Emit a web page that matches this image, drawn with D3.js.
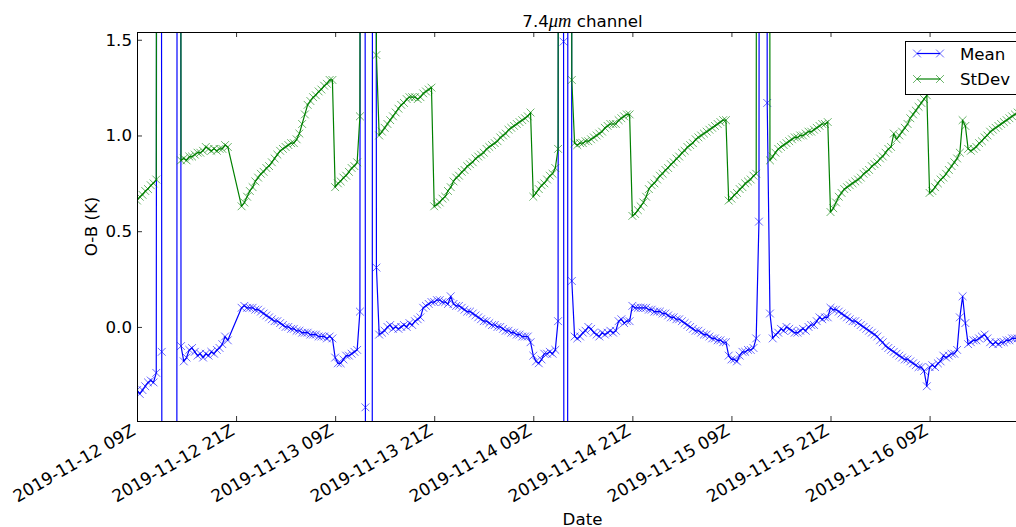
<!DOCTYPE html>
<html>
<head>
<meta charset="utf-8">
<script src="https://cdn.jsdelivr.net/npm/d3@7"></script>
<style>
  body { margin: 0; background: #fff; }
  svg { display: block; }
  text { font-family: "DejaVu Sans", sans-serif; fill: #000; }
</style>
</head>
<body>
<svg id="chart" width="1016" height="527"></svg>
<script>
// Observation-minus-background statistics, 7.4 micron channel, one value every 20 minutes.
const seriesStart = "2019-11-12T09:00:00Z";
const stepMinutes = 20;
const axisEnd = "2019-11-16T20:48:00Z";

// Mean O-B (K); null = no data for that slot
const meanValues = [
  -0.33,-0.35,-0.33,-0.31,-0.29,-0.28,-0.29,-0.24,
  20,-0.13,-20,-20,-20,-20,-20,20,
  -0.10,-0.18,-0.16,-0.12,-0.11,-0.13,-0.15,-0.14,-0.16,-0.14,-0.15,-0.13,-0.14,-0.12,-0.11,-0.09,-0.05,-0.07,
  null,null,null,null,
  0.10,0.11,0.10,0.10,0.10,0.09,0.09,0.08,0.07,0.06,0.05,0.04,0.03,0.03,0.02,0.01,0.00,0.00,-0.01,-0.01,-0.02,-0.02,-0.03,-0.03,-0.03,-0.04,-0.04,-0.04,-0.05,-0.05,-0.05,-0.06,-0.05,-0.06,
  -0.16,-0.19,-0.19,-0.17,-0.15,-0.15,-0.14,-0.13,-0.12,
  0.08,20,-0.42,-20,-20,20,0.31,
  -0.04,-0.03,-0.02,0.00,0.01,-0.01,0.00,-0.01,0.00,0.01,0.00,0.02,0.01,0.03,0.04,0.05,0.10,0.11,0.12,0.13,
  0.13,0.14,0.14,0.13,0.13,0.12,0.16,0.12,0.11,0.11,0.10,0.09,0.08,0.08,0.07,0.06,0.05,0.04,0.03,0.03,0.02,0.01,0.01,0.00,0.00,-0.01,-0.02,-0.02,-0.03,-0.03,-0.04,-0.04,-0.05,-0.05,-0.05,-0.08,
  -0.15,-0.18,-0.19,-0.17,-0.14,-0.14,-0.13,-0.14,-0.12,0.03,
  20,1.49,-20,20,0.24,
  -0.05,-0.06,-0.05,-0.03,-0.02,0.00,-0.01,-0.03,-0.04,-0.05,-0.03,-0.04,-0.03,-0.02,-0.03,-0.02,0.03,0.04,0.02,0.03,0.03,
  0.11,0.10,0.10,0.10,0.10,0.10,0.09,0.09,0.08,0.08,0.08,0.07,0.07,0.06,0.05,0.05,0.04,0.04,0.03,0.02,0.01,0.00,-0.01,-0.02,-0.02,-0.03,-0.04,-0.04,-0.05,-0.06,-0.06,-0.07,-0.07,-0.08,-0.08,
  -0.15,-0.17,-0.17,-0.18,-0.15,-0.13,-0.13,-0.12,-0.12,-0.11,-0.06,
  0.55,20,20,1.17,
  0.07,-0.06,-0.04,-0.03,-0.01,-0.02,0.00,-0.01,-0.02,-0.03,-0.03,-0.02,-0.01,-0.02,0.00,0.01,0.01,0.03,0.05,0.04,0.05,0.05,
  0.10,0.09,0.09,0.08,0.07,0.06,0.05,0.04,0.03,0.03,0.02,0.01,0.00,-0.01,-0.02,-0.03,-0.04,-0.05,-0.07,-0.08,-0.10,-0.11,-0.12,-0.13,-0.14,-0.15,-0.16,-0.17,-0.17,-0.18,-0.19,-0.20,-0.21,-0.21,-0.23,-0.31,
  -0.21,-0.20,-0.21,-0.19,-0.18,-0.15,-0.16,-0.15,-0.14,-0.14,-0.12,0.05,0.16,0.02,-0.09,-0.08,-0.07,-0.07,-0.06,-0.05,-0.04,-0.06,-0.08,-0.09,-0.08,-0.09,-0.08,-0.08,-0.07,-0.07,-0.06,-0.06,-0.06
];

// Standard deviation of O-B (K)
const stdevValues = [
  0.66,0.68,0.69,0.71,0.72,0.74,0.75,0.77,
  20,20,20,20,20,20,20,20,
  0.87,0.88,0.87,0.89,0.89,0.90,0.91,0.91,0.92,0.94,0.93,0.92,0.93,0.92,0.93,0.93,0.95,0.94,
  null,null,null,null,
  0.63,0.65,0.68,0.71,0.73,0.76,0.78,0.80,0.81,0.83,0.84,0.86,0.88,0.90,0.92,0.93,0.94,0.95,0.96,0.96,0.98,1.01,1.06,1.11,1.16,1.18,1.20,1.21,1.23,1.24,1.26,1.27,1.29,1.29,
  0.73,0.75,0.76,0.78,0.79,0.81,0.83,0.84,0.86,
  1.10,20,20,20,20,20,1.42,
  1.00,1.02,1.04,1.06,1.08,1.10,1.12,1.14,1.16,1.17,1.19,1.20,1.20,1.20,1.19,1.20,1.22,1.23,1.24,1.25,
  0.63,0.64,0.65,0.67,0.68,0.71,0.73,0.76,0.78,0.79,0.81,0.82,0.84,0.85,0.86,0.88,0.89,0.90,0.91,0.93,0.94,0.95,0.96,0.97,0.99,1.00,1.01,1.03,1.04,1.05,1.06,1.07,1.08,1.09,1.10,1.12,
  0.68,0.70,0.72,0.74,0.75,0.77,0.79,0.80,0.83,0.93,
  20,20,20,20,1.29,
  0.96,0.95,0.96,0.96,0.97,0.97,0.98,0.99,1.00,1.01,1.02,1.04,1.05,1.06,1.06,1.06,1.08,1.09,1.10,1.11,1.11,
  0.58,0.59,0.61,0.63,0.65,0.68,0.72,0.74,0.75,0.77,0.79,0.80,0.82,0.83,0.85,0.86,0.88,0.89,0.91,0.92,0.94,0.95,0.96,0.98,0.99,1.00,1.01,1.02,1.03,1.04,1.05,1.06,1.07,1.08,1.08,
  0.66,0.67,0.69,0.70,0.72,0.73,0.75,0.76,0.77,0.79,0.80,
  20,20,20,20,
  0.87,0.89,0.91,0.93,0.94,0.95,0.96,0.97,0.98,0.99,0.99,1.00,1.00,1.01,1.02,1.02,1.03,1.04,1.05,1.06,1.06,1.07,
  0.60,0.62,0.65,0.68,0.70,0.72,0.73,0.74,0.75,0.76,0.77,0.78,0.80,0.81,0.82,0.84,0.85,0.86,0.88,0.89,0.91,0.93,0.94,1.01,0.98,1.00,1.02,1.04,1.06,1.09,1.11,1.13,1.15,1.17,1.19,1.21,
  0.70,0.71,0.73,0.75,0.77,0.78,0.80,0.82,0.84,0.86,0.88,0.91,1.08,1.05,0.93,0.92,0.93,0.94,0.96,0.97,0.99,1.00,1.02,1.03,1.04,1.05,1.06,1.07,1.08,1.09,1.10,1.11,1.12
];

const yDomain = [-0.4914, 1.5405];
const yTickValues = [0.0, 0.5, 1.0, 1.5];
const xTickTimes = [
  "2019-11-12T09:00:00Z","2019-11-12T21:00:00Z","2019-11-13T09:00:00Z",
  "2019-11-13T21:00:00Z","2019-11-14T09:00:00Z","2019-11-14T21:00:00Z",
  "2019-11-15T09:00:00Z","2019-11-15T21:00:00Z","2019-11-16T09:00:00Z"
];
const xTickLabels = [
  "2019-11-12 09Z","2019-11-12 21Z","2019-11-13 09Z",
  "2019-11-13 21Z","2019-11-14 09Z","2019-11-14 21Z",
  "2019-11-15 09Z","2019-11-15 21Z","2019-11-16 09Z"
];
const seriesNames = ["Mean", "StDev"];
const seriesColors = ["#0000ff", "#008000"];

const svg = d3.select("#chart");
const plot = { left: 137, right: 1027, top: 32, bottom: 421 };

const t0 = new Date(seriesStart).getTime();
const timeAt = i => new Date(t0 + i * stepMinutes * 60000);

const x = d3.scaleUtc()
  .domain([new Date(seriesStart), new Date(axisEnd)])
  .range([plot.left, plot.right]);
const y = d3.scaleLinear().domain(yDomain).range([plot.bottom, plot.top]);

const toPoints = vals => vals
  .map((v, i) => ({ t: timeAt(i), v }))
  .filter(d => d.v !== null);
const series = [toPoints(meanValues), toPoints(stdevValues)];

svg.append("defs").append("clipPath").attr("id", "plot-clip")
  .append("rect")
  .attr("x", plot.left + 0.5).attr("y", plot.top + 0.5)
  .attr("width", plot.right - plot.left).attr("height", plot.bottom - plot.top);

const line = d3.line().x(d => x(d.t)).y(d => y(d.v));
const r = 3.9;
const markerPath = `M${-r},${-r}L${r},${r}M${-r},${r}L${r},${-r}`;

const dataLayer = svg.append("g").attr("clip-path", "url(#plot-clip)");
series.forEach((pts, k) => {
  const g = dataLayer.append("g");
  g.append("path")
    .attr("d", line(pts))
    .attr("fill", "none")
    .attr("stroke", seriesColors[k])
    .attr("stroke-width", 1.2)
    .attr("stroke-linejoin", "round");
  g.selectAll("path.mk").data(pts).join("path")
    .attr("class", "mk")
    .attr("d", markerPath)
    .attr("transform", d => `translate(${x(d.t)},${y(d.v)})`)
    .attr("fill", "none")
    .attr("stroke", seriesColors[k])
    .attr("stroke-opacity", 0.75)
    .attr("stroke-width", 0.8);
});

// Frame
svg.append("rect")
  .attr("x", plot.left + 0.5).attr("y", plot.top + 0.5)
  .attr("width", plot.right - plot.left).attr("height", plot.bottom - plot.top)
  .attr("fill", "none").attr("stroke", "#000").attr("stroke-width", 1);

const tickDates = xTickTimes.map(s => new Date(s));

// Bottom axis with inward ticks and slanted date labels
const xAxis = svg.append("g")
  .attr("transform", `translate(0,${plot.bottom})`)
  .call(d3.axisBottom(x).tickValues(tickDates).tickSize(-5)
    .tickFormat((d, i) => xTickLabels[i]));
xAxis.select(".domain").remove();
xAxis.selectAll(".tick line").attr("stroke", "#000").attr("stroke-width", 0.8);
xAxis.selectAll(".tick text")
  .attr("y", null).attr("dy", null)
  .attr("text-anchor", "end")
  .attr("transform", "translate(-1,13) rotate(-30)")
  .style("font-family", "DejaVu Sans, sans-serif")
  .style("font-size", "17px");

// Top axis: ticks only
const xTop = svg.append("g")
  .attr("transform", `translate(0,${plot.top})`)
  .call(d3.axisTop(x).tickValues(tickDates).tickSize(-5).tickFormat(""));
xTop.select(".domain").remove();
xTop.selectAll(".tick line").attr("stroke", "#000").attr("stroke-width", 0.8);

// Left axis
const yAxis = svg.append("g")
  .attr("transform", `translate(${plot.left},0)`)
  .call(d3.axisLeft(y).tickValues(yTickValues).tickSize(-5).tickPadding(5)
    .tickFormat(d3.format(".1f")));
yAxis.select(".domain").remove();
yAxis.selectAll(".tick line").attr("stroke", "#000").attr("stroke-width", 0.8);
yAxis.selectAll(".tick text")
  .style("font-family", "DejaVu Sans, sans-serif")
  .style("font-size", "16.67px");

// Axis titles
svg.append("text")
  .attr("x", (plot.left + plot.right) / 2 + 0.5).attr("y", 524.5)
  .attr("text-anchor", "middle").style("font-size", "16.67px")
  .text("Date");
svg.append("text")
  .attr("transform", `translate(96.5,${(plot.top + plot.bottom) / 2}) rotate(-90)`)
  .attr("text-anchor", "middle").style("font-size", "16.67px")
  .text("O-B (K)");

// Title with italic math-style unit
const title = svg.append("text")
  .attr("x", (plot.left + plot.right) / 2 + 0.5).attr("y", 26.7)
  .attr("text-anchor", "middle").style("font-size", "16.67px");
title.append("tspan").text("7.4");
title.append("tspan")
  .style("font-family", "Liberation Serif, serif")
  .style("font-style", "italic")
  .style("font-size", "18.5px")
  .text("μm");
title.append("tspan").text(" channel");

// Legend
const legend = svg.append("g");
legend.append("rect")
  .attr("x", 905.5).attr("y", 41.5).attr("width", 114).attr("height", 53)
  .attr("fill", "#fff").attr("stroke", "#000").attr("stroke-width", 1);
seriesNames.forEach((name, k) => {
  const cy = 53.5 + k * 25.5;
  const row = legend.append("g");
  row.append("line")
    .attr("x1", 917).attr("x2", 940).attr("y1", cy).attr("y2", cy)
    .attr("stroke", seriesColors[k]).attr("stroke-width", 1.2);
  [917, 940].forEach(px => {
    row.append("path").attr("d", markerPath)
      .attr("transform", `translate(${px},${cy})`)
      .attr("fill", "none").attr("stroke", seriesColors[k])
      .attr("stroke-opacity", 0.75).attr("stroke-width", 0.8);
  });
  row.append("text")
    .attr("x", 960).attr("y", cy + 6)
    .style("font-size", "16.67px")
    .text(name);
});
</script>
</body>
</html>
